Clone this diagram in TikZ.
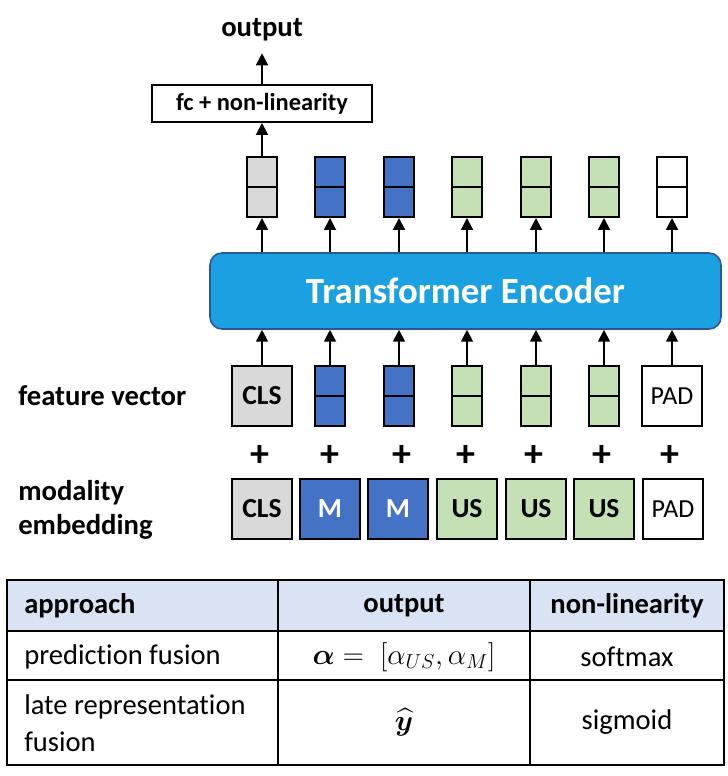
\documentclass[tikz,border=0pt]{standalone}
\usepackage{fontspec}
\setmainfont[Ligatures=NoCommon]{Carlito}
\usepackage{amsmath}
\usepackage{bm}
\usetikzlibrary{arrows.meta}
\definecolor{clsgrey}{HTML}{D9D9D9}
\definecolor{mblue}{HTML}{4472C4}
\definecolor{usgreen}{HTML}{C5E0B4}
\definecolor{encblue}{HTML}{1BA1E2}
\definecolor{encline}{HTML}{2F5597}
\definecolor{headblue}{HTML}{DAE3F3}
\tikzstyle{tok}=[rectangle,draw=black,line width=1.4pt,minimum size=1.5cm,inner sep=0pt,font=\fontsize{19.6}{23}\selectfont\bfseries]
\tikzstyle{pad}=[tok,fill=white,font=\fontsize{18.5}{22}\selectfont]
\tikzstyle{vec}=[rectangle,draw=black,line width=1.4pt,minimum width=0.75cm,minimum height=1.5cm,inner sep=0pt,
  path picture={\draw[line width=1.4pt] (path picture bounding box.west) -- (path picture bounding box.east);}]
\tikzstyle{arr}=[-{Triangle[width=8.5pt,length=8.5pt]},draw=black,line width=1.4pt]
\tikzstyle{lbl}=[inner sep=0pt,font=\fontsize{20.4}{24.2}\selectfont\bfseries]
\tikzstyle{plus}=[inner sep=0pt,font=\fontsize{27}{30}\selectfont\bfseries]
\tikzstyle{cell}=[inner sep=0pt,font=\fontsize{20.3}{26.3}\selectfont]

\begin{document}
\begin{tikzpicture}
  \useasboundingbox (0,0) rectangle (18.175,-19.4);
  % head
  \node[lbl,outer ysep=0.3cm] (outlbl) at (6.55,-0.75) {output};
  \node[draw=black,line width=1.4pt,minimum width=5.5cm,minimum height=0.925cm,inner sep=0pt,
    font=\fontsize{17.4}{21}\selectfont\bfseries] (fc) at (6.55,-2.5875) {fc + non-linearity};
  \draw[arr] (fc) -- (outlbl);
  % encoder outputs
  \node[vec,fill=clsgrey] (o1) at (6.55,-4.675) {};
  \node[vec,fill=mblue] (o2) at (8.25,-4.675) {};
  \node[vec,fill=mblue] (o3) at (9.975,-4.675) {};
  \node[vec,fill=usgreen] (o4) at (11.675,-4.675) {};
  \node[vec,fill=usgreen] (o5) at (13.4,-4.675) {};
  \node[vec,fill=usgreen] (o6) at (15.1,-4.675) {};
  \node[vec,fill=white] (o7) at (16.8,-4.675) {};
  \draw[arr] (o1) -- (fc);
  % encoder
  \node[rectangle,rounded corners=0.3cm,fill=encblue,draw=encline,line width=1.1pt,
    minimum width=12.775cm,minimum height=1.9cm,text=white,
    font=\fontsize{26.2}{30}\selectfont\bfseries] (enc) at (11.6375,-7.275) {Transformer Encoder};
  \draw[arr] (enc.north -| o1) -- (o1);
  \draw[arr] (enc.north -| o2) -- (o2);
  \draw[arr] (enc.north -| o3) -- (o3);
  \draw[arr] (enc.north -| o4) -- (o4);
  \draw[arr] (enc.north -| o5) -- (o5);
  \draw[arr] (enc.north -| o6) -- (o6);
  \draw[arr] (enc.north -| o7) -- (o7);
  % feature vectors
  \node[lbl,anchor=west] (featlbl) at (0.45,-9.9) {feature vector};
  \node[tok,fill=clsgrey] (f1) at (6.55,-9.9) {CLS};
  \node[vec,fill=mblue] (f2) at (8.25,-9.9) {};
  \node[vec,fill=mblue] (f3) at (9.975,-9.9) {};
  \node[vec,fill=usgreen] (f4) at (11.675,-9.9) {};
  \node[vec,fill=usgreen] (f5) at (13.4,-9.9) {};
  \node[vec,fill=usgreen] (f6) at (15.1,-9.9) {};
  \node[pad] (f7) at (16.8,-9.9) {PAD};
  \draw[arr] (f1) -- (f1 |- enc.south);
  \draw[arr] (f2) -- (f2 |- enc.south);
  \draw[arr] (f3) -- (f3 |- enc.south);
  \draw[arr] (f4) -- (f4 |- enc.south);
  \draw[arr] (f5) -- (f5 |- enc.south);
  \draw[arr] (f6) -- (f6 |- enc.south);
  \draw[arr] (f7) -- (f7 |- enc.south);
  % plus signs
  \node[plus] (p1) at (6.5,-11.4) {+};
  \node[plus] (p2) at (8.25,-11.4) {+};
  \node[plus] (p3) at (10.05,-11.4) {+};
  \node[plus] (p4) at (11.65,-11.4) {+};
  \node[plus] (p5) at (13.35,-11.4) {+};
  \node[plus] (p6) at (15.05,-11.4) {+};
  \node[plus] (p7) at (16.75,-11.4) {+};
  % modality embedding
  \node[lbl,anchor=west,align=left] (modlbl) at (0.45,-12.75) {modality\\embedding};
  \node[tok,fill=clsgrey] (m1) at (6.55,-12.725) {CLS};
  \node[tok,fill=mblue,text=white] (m2) at (8.25,-12.725) {M};
  \node[tok,fill=mblue,text=white] (m3) at (9.95,-12.725) {M};
  \node[tok,fill=usgreen] (m4) at (11.675,-12.725) {US};
  \node[tok,fill=usgreen] (m5) at (13.4,-12.725) {US};
  \node[tok,fill=usgreen] (m6) at (15.1,-12.725) {US};
  \node[pad] (m7) at (16.825,-12.725) {PAD};
  % table
  \fill[headblue] (0.175,-14.5) rectangle (18.1,-15.775);
  \draw[line width=1.1pt] (0.175,-14.5) rectangle (18.1,-19.125);
  \draw[line width=1.1pt] (0.175,-15.775) -- (18.1,-15.775);
  \draw[line width=1.1pt] (0.175,-17.0) -- (18.1,-17.0);
  \draw[line width=1.1pt] (6.95,-14.5) -- (6.95,-19.125);
  \draw[line width=1.1pt] (13.25,-14.5) -- (13.25,-19.125);
  \node[cell,anchor=west,font=\fontsize{20.3}{26.3}\selectfont\bfseries] (happ) at (0.6,-15.15) {approach};
  \node[cell,font=\fontsize{20.3}{26.3}\selectfont\bfseries] (hout) at (10.1,-15.15) {output};
  \node[cell,font=\fontsize{20.3}{26.3}\selectfont\bfseries] (hnon) at (15.675,-15.15) {non-linearity};
  \node[cell,anchor=west] (app1) at (0.6,-16.425) {prediction fusion};
  \node[cell] (out1) at (10.1,-16.425) {$\bm{\alpha} =\; [\alpha_{US}, \alpha_M]$};
  \node[cell] (non1) at (15.675,-16.425) {softmax};
  \node[cell,anchor=west,align=left] (app2) at (0.6,-18.09) {late representation\\fusion};
  \node[cell] (out2) at (10.1,-18.06) {$\widehat{\bm{y}}$};
  \node[cell] (non2) at (15.675,-18.06) {sigmoid};
\end{tikzpicture}
\end{document}
